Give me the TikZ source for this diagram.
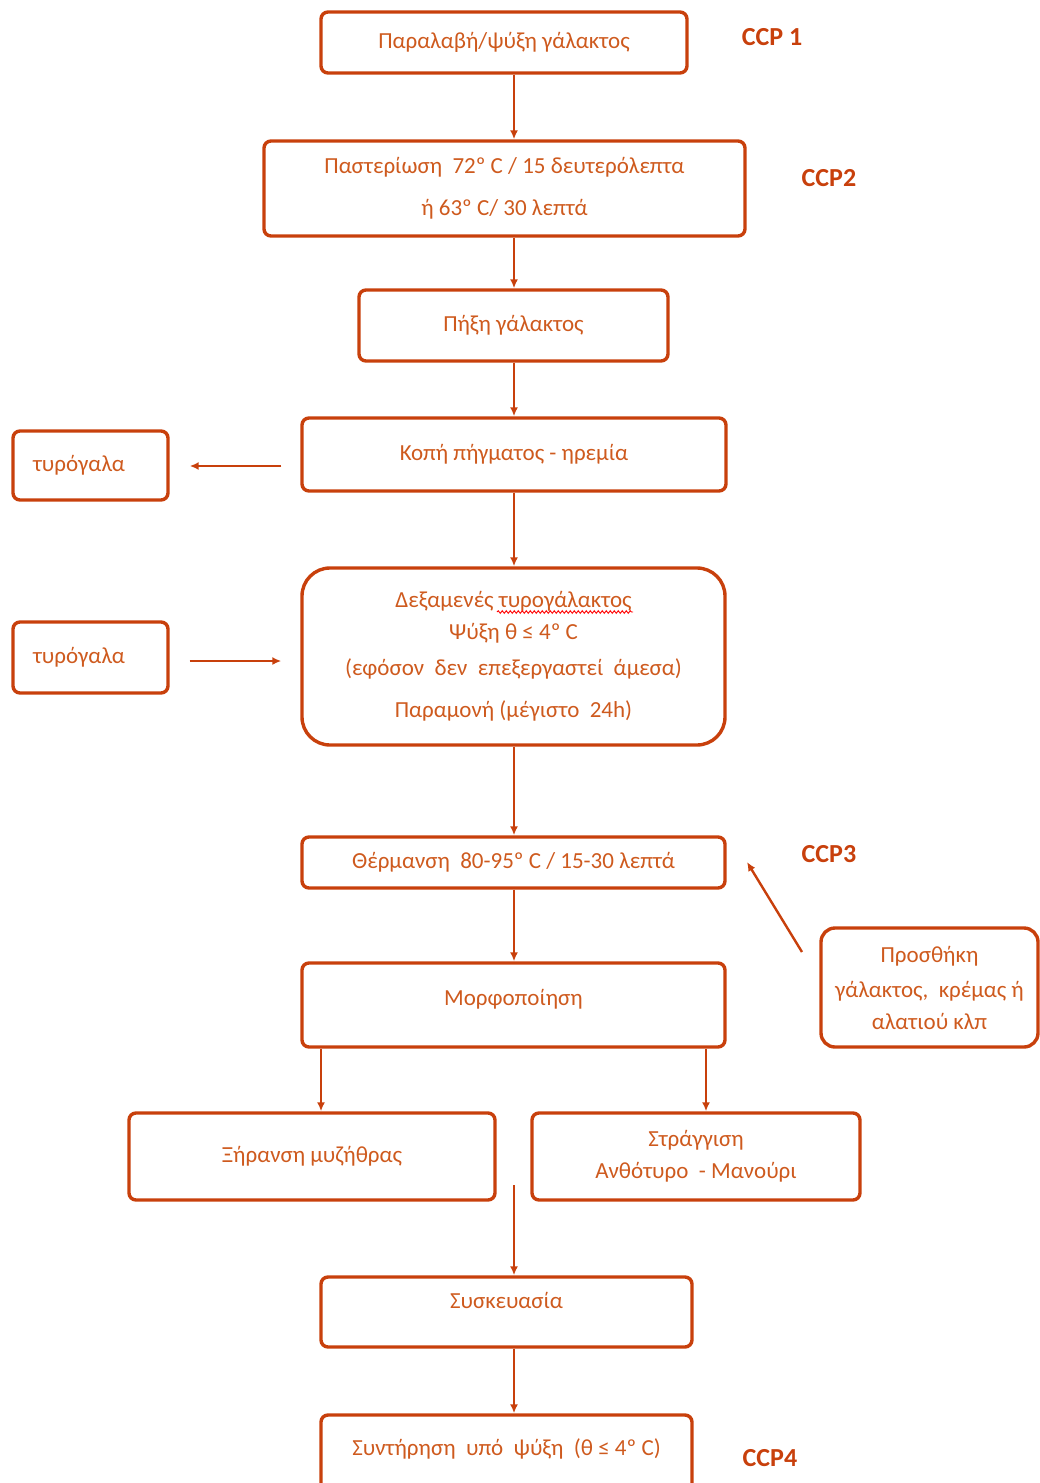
\documentclass[tikz,border=0pt]{standalone}
\usepackage{fontspec}
\setmainfont{Carlito}
\usetikzlibrary{arrows.meta,decorations.pathmorphing}
\definecolor{ln}{HTML}{C8400C}
\definecolor{tx}{HTML}{CE5A1E}
\begin{document}
\begin{tikzpicture}[x=1pt,y=-1pt,
  box/.style={draw=ln, line width=3.4pt, rounded corners=7pt, text=tx,
    font=\fontsize{23}{28}\selectfont, align=center, inner sep=0pt},
  ccp/.style={text=ln, font=\bfseries\fontsize{26}{30}\selectfont, inner sep=0pt},
  arr/.style={draw=ln, line width=2.4pt, -{Latex[length=9pt,width=8pt]}}]
\useasboundingbox (0,0) rectangle (1040,1483);
\coordinate (cx) at (514,0);
\coordinate (lx) at (321,0);
\coordinate (rx) at (706,0);
% boxes
\node[box, minimum width=366pt, minimum height=61pt] (b1) at (504,42.5) {Παραλαβή/ψύξη γάλακτος};
\node[box, minimum width=481pt, minimum height=95pt] (b2) at (504.5,188.5) {Παστερίωση \ 72º C / 15 δευτερόλεπτα\\[14pt]ή 63º C/ 30 λεπτά};
\node[box, minimum width=309pt, minimum height=71pt] (b3) at (513.5,325.5) {Πήξη γάλακτος};
\node[box, minimum width=424pt, minimum height=73pt] (b4) at (514,454.5) {Κοπή πήγματος - ηρεμία};
\node[box, minimum width=155pt, minimum height=69pt, text width=115pt, align=left] (l1) at (90.5,465.5) {τυρόγαλα};
\node[box, minimum width=423pt, minimum height=177pt, rounded corners=28pt] (b5) at (513.5,656.5) {Δεξαμενές τυρογάλακτος\\[4pt]Ψύξη θ ≤ 4º C\\[8pt](εφόσον \ δεν \ επεξεργαστεί \ άμεσα)\\[14pt]Παραμονή (μέγιστο \ 24h)};
\node[box, minimum width=155pt, minimum height=71pt, text width=115pt, align=left] (l2) at (90.5,657.5) {τυρόγαλα};
\node[box, minimum width=423pt, minimum height=51pt] (b6) at (513.5,862.5) {Θέρμανση \ 80-95º C / 15-30 λεπτά};
\node[box, minimum width=423pt, minimum height=84pt] (b7) at (513.5,1005) {Μορφοποίηση\\[-12pt]\mbox{}};
\node[box, minimum width=217pt, minimum height=119pt, rounded corners=14pt] (b8) at (929.5,987.5) {Προσθήκη\\[7pt]γάλακτος, \ κρέμας ή\\[4pt]αλατιού κλπ};
\node[box, minimum width=366pt, minimum height=87pt] (b9) at (312,1156.5) {Ξήρανση μυζήθρας};
\node[box, minimum width=328pt, minimum height=87pt] (b10) at (696,1156.5) {Στράγγιση\\[4pt]Ανθότυρο \ - Μανούρι};
\node[box, minimum width=371pt, minimum height=70pt] (b11) at (506.5,1312) {Συσκευασία\\[-4pt]\mbox{}};
\node[box, minimum width=371pt, minimum height=84pt] (b12) at (506.5,1457) {Συντήρηση \ υπό \ ψύξη \ (θ ≤ 4º C)\\[-8pt]\mbox{}};
% spell-check underline
\draw[red, line width=0.9pt, decorate, decoration={snake, amplitude=1.3pt, segment length=4pt}] (497,612) -- (633,612);
% CCP labels
\node[ccp] (c1) at (772,37) {CCP 1};
\node[ccp] (c2) at (829,178) {CCP2};
\node[ccp] (c3) at (829,854) {CCP3};
\node[ccp] (c4) at (770,1458) {CCP4};
% connectors
\draw[arr] (b1.south -| cx) -- (b2.north -| cx);
\draw[arr] (b2.south -| cx) -- (b3.north -| cx);
\draw[arr] (b3.south -| cx) -- (b4.north -| cx);
\draw[arr] (b4.south -| cx) -- (b5.north -| cx);
\draw[arr] (b5.south -| cx) -- (b6.north -| cx);
\draw[arr] (b6.south -| cx) -- (b7.north -| cx);
\draw[arr] (b7.south -| lx) -- (b9.north -| lx);
\draw[arr] (b7.south -| rx) -- (b10.north -| rx);
\coordinate (s) at (514,1185);
\draw[arr] (s) -- (b11.north -| cx);
\draw[arr] (b11.south -| cx) -- (b12.north -| cx);
\draw[arr, shorten <=19pt, shorten >=20pt] (b4.west |- 0,466) -- (l1.east |- 0,466);
\draw[arr, shorten <=20pt, shorten >=19pt] (l2.east |- 0,661) -- (b5.west |- 0,661);
\coordinate (p1) at (802,952);
\coordinate (p2) at (747,862);
\draw[arr] (p1) -- (p2);
\end{tikzpicture}
\end{document}
